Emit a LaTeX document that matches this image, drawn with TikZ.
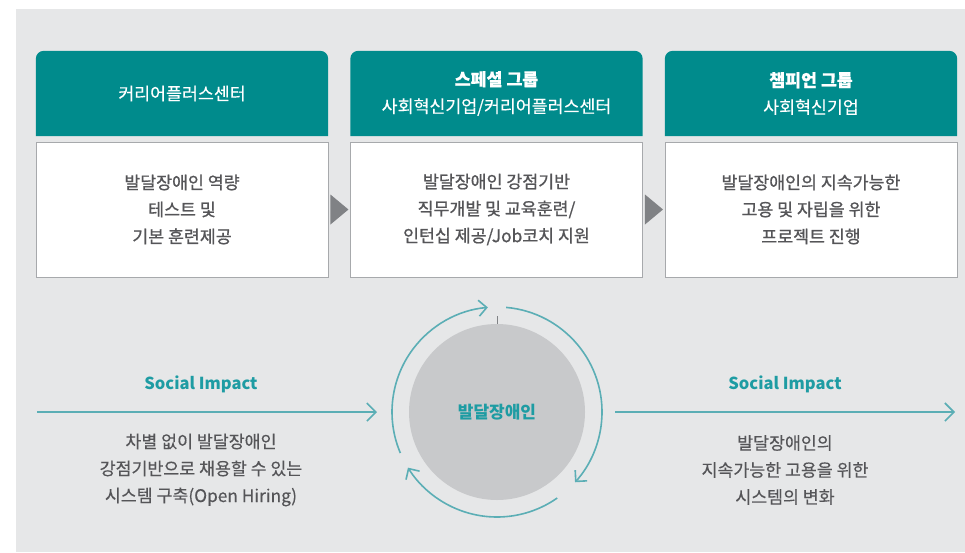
\documentclass[tikz,border=0pt]{standalone}
\usepackage{fontspec}
\setmainfont{Noto Sans CJK KR}
\newfontfamily\krmed[FakeBold=0.9]{Noto Sans CJK KR}
\newfontfamily\krreg[FakeBold=0.3]{Noto Sans CJK KR}
\usetikzlibrary{arrows.meta,calc,backgrounds}
\definecolor{headteal}{HTML}{008B8C}
\definecolor{lineteal}{HTML}{5BAEB5}
\definecolor{textteal}{HTML}{1E9CA3}
\definecolor{bodygray}{HTML}{555558}
\definecolor{boxline}{HTML}{A7A9AC}
\definecolor{panelgray}{HTML}{E6E7E8}
\definecolor{trigray}{HTML}{808285}
\definecolor{circgray}{HTML}{C8C9CB}
\tikzset{
  headbox/.style={minimum width=292pt,minimum height=85pt,
    inner sep=0pt,text=white,align=center,font=\krreg\fontsize{17.3}{27}\selectfont},
  bodybox/.style={fill=white,draw=boxline,line width=0.9pt,minimum width=292pt,minimum height=135pt,
    inner sep=0pt,text=bodygray,align=center,font=\krmed\fontsize{17.3}{27}\selectfont},
  impline/.style={lineteal,line width=1.6pt,-{Straight Barb[length=9pt,width=18pt]}},
  cycarrow/.style={lineteal,line width=1.6pt,-{Straight Barb[length=8pt,width=16pt]}},
  imptitle/.style={text=textteal,font=\bfseries\fontsize{16.5}{20}\selectfont},
  imptext/.style={text=bodygray,align=center,font=\krreg\fontsize{17.3}{27}\selectfont}
}
\begin{document}
\begin{tikzpicture}[x=1pt,y=-1pt]
  \node[headbox] (hdA) at (182,93.5) {커리어플러스센터};
  \node[headbox] (hdB) at (496.5,93.5) {\textbf{스페셜 그룹}\\사회혁신기업/커리어플러스센터};
  \node[headbox] (hdC) at (811,93.5) {\textbf{챔피언 그룹}\\사회혁신기업};
  \node[bodybox] (bdA) at (182,209.5) {발달장애인 역량\\테스트 및\\기본 훈련제공};
  \node[bodybox] (bdB) at (496.5,209.5) {발달장애인 강점기반\\직무개발 및 교육훈련/\\인턴십 제공/Job코치 지원};
  \node[bodybox] (bdC) at (811,209.5) {발달장애인의 지속가능한\\고용 및 자립을 위한\\프로젝트 진행};
  \foreach \a in {bdA,bdB}{
    \fill[trigray] ($(\a.east)+(2,-15)$) -- ++(18,15) -- ++(-18,15) -- cycle;}

  \node[circle,fill=circgray,minimum size=176pt,inner sep=0pt,text=textteal,
    font=\bfseries\fontsize{17}{20}\selectfont] (ctr) at (497,412) {발달장애인};
  \draw[trigray,line width=0.8pt] (ctr.north) -- ++(0,-8);
  \draw[cycarrow] ($(ctr)+(-203:105)$) arc[start angle=-203,end angle=-95,radius=105];
  \draw[cycarrow] ($(ctr)+(-85:105)$) arc[start angle=-85,end angle=42,radius=105];
  \draw[cycarrow] ($(ctr)+(55:105)$) arc[start angle=55,end angle=148,radius=105];

  \coordinate (impLa) at (37,412);
  \coordinate (impLb) at (377,412);
  \coordinate (impRa) at (615,412);
  \coordinate (impRb) at (955,412);
  \draw[impline] (impLa) -- (impLb);
  \draw[impline] (impRa) -- (impRb);
  \node[imptitle] (siL) at (201,384) {Social Impact};
  \node[imptitle] (siR) at (785,384) {Social Impact};
  \node[imptext] (txL) at (201,470) {차별 없이 발달장애인\\강점기반으로 채용할 수 있는\\시스템 구축(Open Hiring)};
  \node[imptext] (txR) at (785,470) {발달장애인의\\지속가능한 고용을 위한\\시스템의 변화};

  \begin{pgfonlayer}{background}
    \fill[white] (0,0) rectangle (965,552);
    \fill[panelgray] (16,9) rectangle (965,552);
    \foreach \h in {hdA,hdB,hdC}{
      \fill[headteal] (\h.south west) [rounded corners=8pt] -- (\h.north west)
        -- (\h.north east) [sharp corners] -- (\h.south east) -- cycle;}
  \end{pgfonlayer}
\end{tikzpicture}
\end{document}
